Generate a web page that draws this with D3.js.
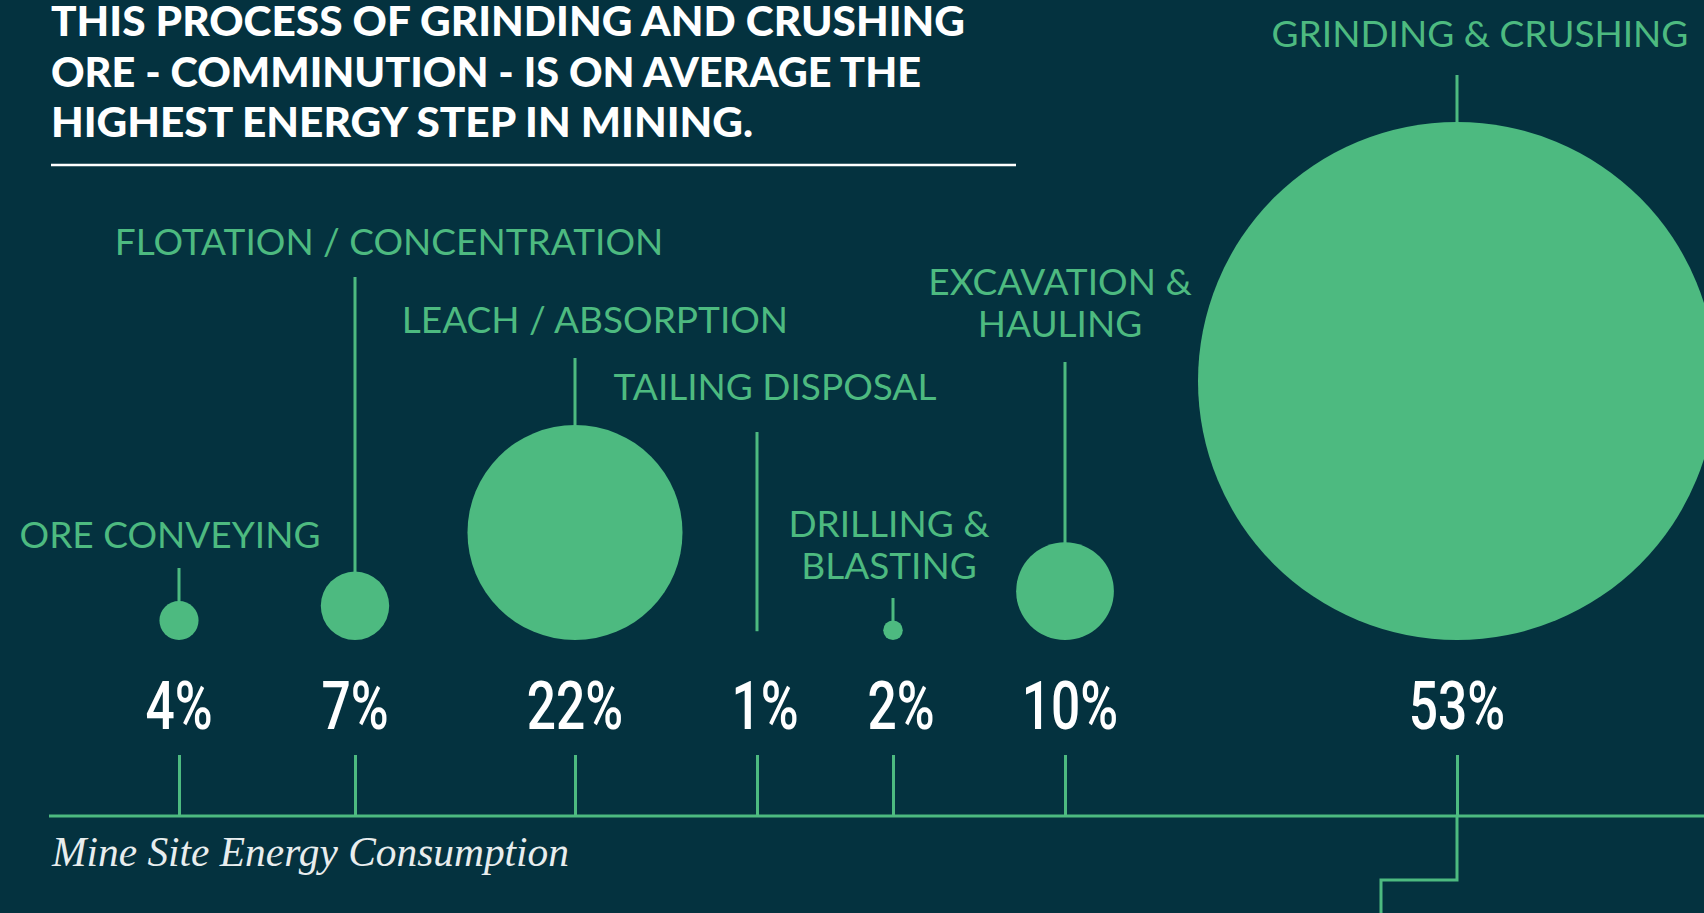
<!DOCTYPE html>
<html>
<head>
<meta charset="utf-8">
<script src="https://cdn.jsdelivr.net/npm/d3@7"></script>
<style>
  html, body { margin: 0; padding: 0; background: #04323f; }
  svg { display: block; }
</style>
</head>
<body>
<svg id="chart"></svg>
<script>
  // mine site energy consumption, share of each process step (%)
  var steps = ['ORE CONVEYING', 'FLOTATION / CONCENTRATION', 'LEACH / ABSORPTION', 'TAILING DISPOSAL',
    'DRILLING & BLASTING', 'EXCAVATION & HAULING', 'GRINDING & CRUSHING'];
  var stepLines = [['ORE CONVEYING'], ['FLOTATION / CONCENTRATION'], ['LEACH / ABSORPTION'], ['TAILING DISPOSAL'],
    ['DRILLING &', 'BLASTING'], ['EXCAVATION &', 'HAULING'], ['GRINDING & CRUSHING']];
  var shares = [4, 7, 22, 1, 2, 10, 53];
  var shareLabels = ['4%', '7%', '22%', '1%', '2%', '10%', '53%'];
  var titleLines = ['THIS PROCESS OF GRINDING AND CRUSHING', 'ORE - COMMINUTION - IS ON AVERAGE THE',
    'HIGHEST ENERGY STEP IN MINING.'];
  var caption = 'Mine Site Energy Consumption';

  // layout (hand placed in the original, so kept here)
  var width = 1704, height = 913;
  var slots = [179, 355, 575, 757, 893, 1065, 1457];
  var labelDx = [-9, 34, 20, 18, -4, -5, 23];
  var labelY = [548, 255, 333, 400, 537, 295, 47];
  var leaderTop = [568, 277, 358, 432, 598, 362, 75];
  var pctDx = [0, 0, 0, 8, 8, 5, 0];
  var titleWidths = [914, 870, 702];
  var floorY = 640, axisY = 816, pctY = 729;

  var green = '#4dba80';

  var data = steps.map(function (s, i) {
    return { step: s, lines: stepLines[i], value: shares[i], label: shareLabels[i], i: i };
  });

  var x = d3.scaleOrdinal().domain(steps).range(slots);
  var r = d3.scaleLinear().domain([0, d3.max(shares)]).range([0, 259]);

  var svg = d3.select('#chart')
    .attr('width', width)
    .attr('height', height);

  svg.append('rect')
    .attr('width', width)
    .attr('height', height)
    .attr('fill', '#04323f');

  // title
  svg.append('g').selectAll('text')
    .data(titleLines)
    .enter().append('text')
    .attr('x', 51)
    .attr('y', function (d, i) { return 36 + i * 50.5; })
    .attr('textLength', function (d, i) { return titleWidths[i]; })
    .attr('lengthAdjust', 'spacingAndGlyphs')
    .attr('fill', '#ffffff')
    .style('font-family', 'Lato, sans-serif')
    .style('font-weight', 900)
    .style('font-size', '41px')
    .text(function (d) { return d; });

  svg.append('line')
    .attr('x1', 51).attr('x2', 1016)
    .attr('y1', 165).attr('y2', 165)
    .attr('stroke', '#ffffff')
    .attr('stroke-width', 2.5);

  // leaders from label down to the bubble
  svg.append('g').selectAll('line')
    .data(data)
    .enter().append('line')
    .attr('x1', function (d) { return x(d.step); })
    .attr('x2', function (d) { return x(d.step); })
    .attr('y1', function (d) { return leaderTop[d.i]; })
    .attr('y2', function (d) { return floorY - 2 * r(d.value) + 1; })
    .attr('stroke', green)
    .attr('stroke-width', 3);

  // bubbles sit on a common floor; the 1% step has only its leader in the original
  svg.append('g').selectAll('circle')
    .data(data.filter(function (d) { return d.value > 1; }))
    .enter().append('circle')
    .attr('cx', function (d) { return x(d.step); })
    .attr('cy', function (d) { return floorY - r(d.value); })
    .attr('r', function (d) { return r(d.value); })
    .attr('fill', green);

  // step names
  var names = svg.append('g').selectAll('text')
    .data(data)
    .enter().append('text')
    .attr('x', function (d) { return x(d.step) + labelDx[d.i]; })
    .attr('y', function (d) { return labelY[d.i]; })
    .attr('text-anchor', 'middle')
    .attr('fill', green)
    .style('font-family', 'Lato, sans-serif')
    .style('font-size', '37px');

  names.selectAll('tspan')
    .data(function (d) { return d.lines.map(function (l) { return { l: l, x: x(d.step) + labelDx[d.i] }; }); })
    .enter().append('tspan')
    .attr('x', function (d) { return d.x; })
    .attr('dy', function (d, j) { return j === 0 ? 0 : 42; })
    .text(function (d) { return d.l; });

  // percentages
  svg.append('g').selectAll('text')
    .data(data)
    .enter().append('text')
    .attr('transform', function (d) {
      return 'translate(' + (x(d.step) + pctDx[d.i]) + ',' + pctY + ') scale(0.78,1)';
    })
    .attr('text-anchor', 'middle')
    .attr('fill', '#ffffff')
    .style('font-family', 'Roboto, sans-serif')
    .style('font-weight', 500)
    .style('font-size', '66px')
    .text(function (d) { return d.label; });

  // axis with ticks pointing up
  var axis = svg.append('g')
    .attr('transform', 'translate(0,' + axisY + ')')
    .call(d3.axisTop(x).tickSize(61).tickFormat(''));
  axis.select('.domain').remove();
  axis.selectAll('.tick line')
    .attr('stroke', green)
    .attr('stroke-width', 3);

  svg.append('line')
    .attr('x1', 49).attr('x2', width)
    .attr('y1', axisY).attr('y2', axisY)
    .attr('stroke', green)
    .attr('stroke-width', 3);

  // the biggest step continues down off the page
  var big = x(steps[shares.indexOf(d3.max(shares))]);
  svg.append('path')
    .attr('d', d3.line()([[big, axisY], [big, 880], [big - 76, 880], [big - 76, height + 5]]))
    .attr('fill', 'none')
    .attr('stroke', green)
    .attr('stroke-width', 3);

  svg.append('text')
    .attr('x', 52)
    .attr('y', 866)
    .attr('textLength', 517)
    .attr('lengthAdjust', 'spacingAndGlyphs')
    .attr('fill', '#e8edee')
    .style('font-family', '"Liberation Serif", serif')
    .style('font-style', 'italic')
    .style('font-size', '43px')
    .text(caption);
</script>
</body>
</html>
